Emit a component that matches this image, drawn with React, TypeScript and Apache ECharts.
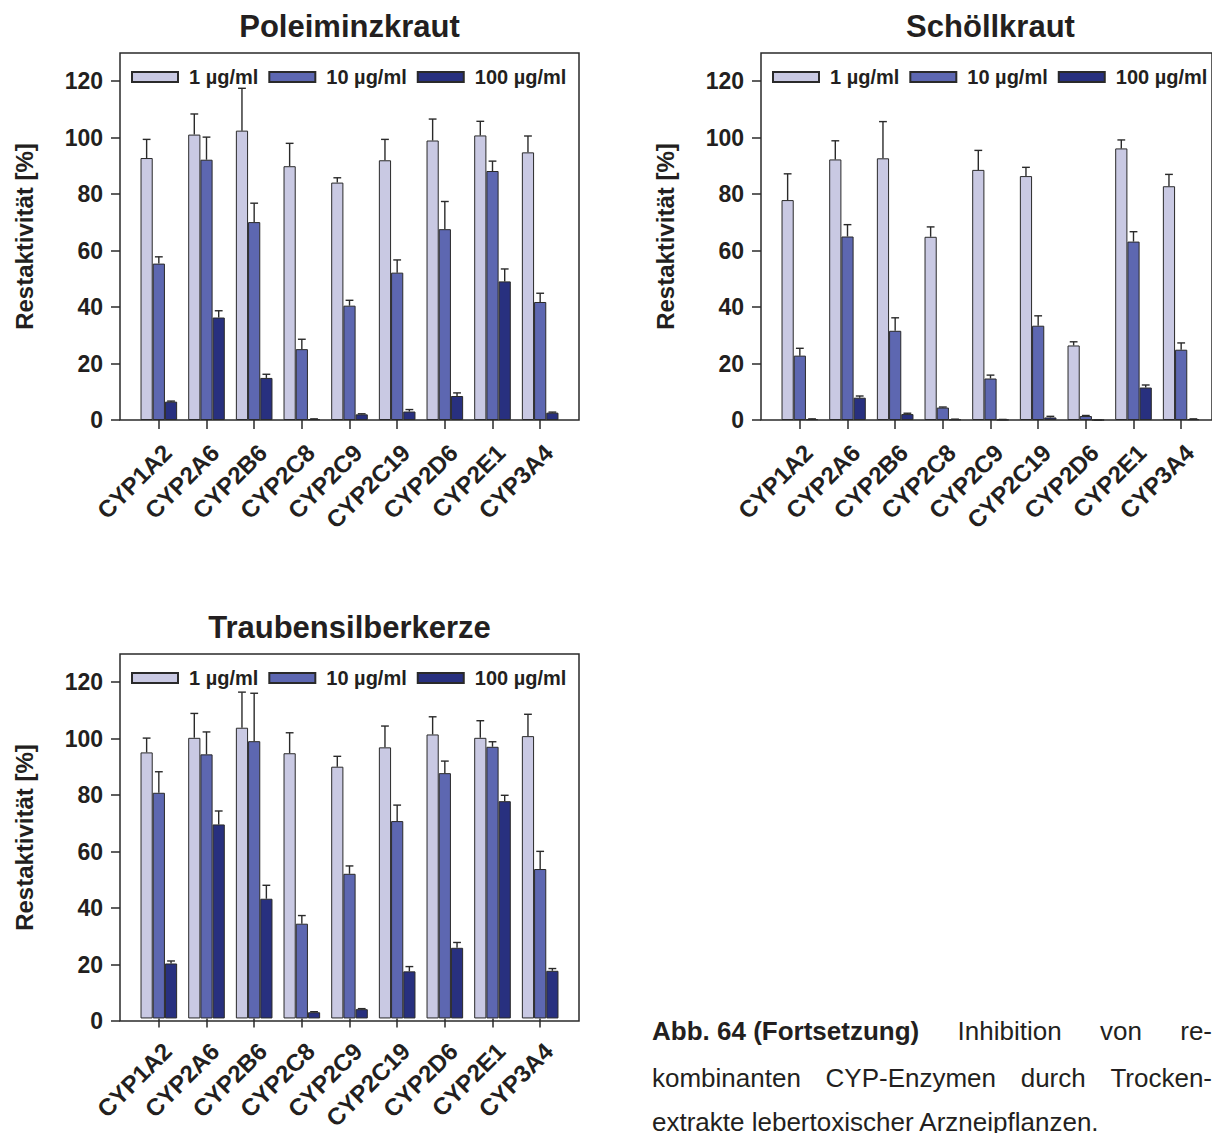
import React, { useEffect, useRef } from "react";
import * as echarts from "echarts";

const CATEGORIES = ["CYP1A2", "CYP2A6", "CYP2B6", "CYP2C8", "CYP2C9", "CYP2C19", "CYP2D6", "CYP2E1", "CYP3A4"];
const SERIES_NAMES = ["1 µg/ml", "10 µg/ml", "100 µg/ml"];
const Y_TICKS = [0, 20, 40, 60, 80, 100, 120];
const Y_LABEL = "Restaktivität [%]";

// Poleiminzkraut
const POLEI_1 = [92.8, 101.1, 102.5, 89.9, 84.1, 92.0, 99.0, 100.8, 94.8];
const POLEI_1_SD = [6.6, 7.3, 15.0, 8.1, 1.7, 7.4, 7.6, 5.0, 5.8];
const POLEI_10 = [55.4, 92.2, 70.1, 25.1, 40.5, 52.2, 67.6, 88.2, 41.8];
const POLEI_10_SD = [2.4, 8.0, 6.7, 3.5, 1.9, 4.5, 9.8, 3.5, 3.1];
const POLEI_100 = [6.5, 36.3, 14.9, 0.3, 2.0, 3.0, 8.5, 49.1, 2.6];
const POLEI_100_SD = [0.2, 2.4, 1.3, 0.1, 0.2, 0.7, 1.1, 4.4, 0.2];

// Schöllkraut
const SCHOELL_1 = [77.9, 92.3, 92.7, 64.9, 88.6, 86.4, 26.4, 96.2, 82.8];
const SCHOELL_1_SD = [9.3, 6.6, 13.0, 3.5, 6.9, 3.1, 1.3, 3.0, 4.2];
const SCHOELL_10 = [22.8, 65.0, 31.6, 4.4, 14.7, 33.4, 1.4, 63.2, 24.9];
const SCHOELL_10_SD = [2.6, 4.2, 4.6, 0.2, 1.2, 3.5, 0.2, 3.5, 2.4];
const SCHOELL_100 = [0.3, 7.9, 2.1, 0.2, 0.1, 0.9, 0.0, 11.5, 0.3];
const SCHOELL_100_SD = [0.1, 0.6, 0.3, 0.1, 0.1, 0.4, 0.0, 0.9, 0.1];

// Traubensilberkerze
const TRAUBEN_1 = [94.9, 100.1, 103.7, 94.6, 89.8, 96.7, 101.3, 100.1, 100.7];
const TRAUBEN_1_SD = [5.1, 8.7, 12.7, 7.3, 3.7, 7.6, 6.3, 6.1, 7.8];
const TRAUBEN_10 = [80.5, 94.2, 98.9, 33.8, 51.6, 70.4, 87.5, 96.9, 53.3];
const TRAUBEN_10_SD = [7.5, 8.0, 17.1, 2.9, 2.8, 5.7, 4.3, 1.8, 6.3];
const TRAUBEN_100 = [19.6, 69.2, 42.7, 2.2, 3.3, 16.8, 25.2, 77.5, 17.0];
const TRAUBEN_100_SD = [0.9, 4.8, 4.8, 0.2, 0.2, 1.7, 1.9, 2.1, 0.8];

const PANEL_TITLES = ["Poleiminzkraut", "Schöllkraut", "Traubensilberkerze"];

const CAPTION_LINE1 = [
  { t: "Abb. 64 (Fortsetzung)", bold: true },
  { t: "Inhibition", bold: false },
  { t: "von", bold: false },
  { t: "re-", bold: false },
];
const CAPTION_LINE2 = [
  { t: "kombinanten", bold: false },
  { t: "CYP-Enzymen", bold: false },
  { t: "durch", bold: false },
  { t: "Trocken-", bold: false },
];
const CAPTION_LINE3 = "extrakte lebertoxischer Arzneipflanzen.";

const FONT = "'Liberation Sans', Arial, Helvetica, sans-serif";
const TEXT_COLOR = "#231f20";
const BORDER = "#2a2a2a";
const COLORS = ["#c9c9e3", "#5d67b1", "#28307f"];
const BAR_FRAC = 0.256;

const PANELS = [
  {
    title: PANEL_TITLES[0],
    means: [POLEI_1, POLEI_10, POLEI_100],
    sds: [POLEI_1_SD, POLEI_10_SD, POLEI_100_SD],
    boxLeft: 120, top: 53, height: 367,
  },
  {
    title: PANEL_TITLES[1],
    means: [SCHOELL_1, SCHOELL_10, SCHOELL_100],
    sds: [SCHOELL_1_SD, SCHOELL_10_SD, SCHOELL_100_SD],
    boxLeft: 761, top: 53, height: 367,
  },
  {
    title: PANEL_TITLES[2],
    means: [TRAUBEN_1, TRAUBEN_10, TRAUBEN_100],
    sds: [TRAUBEN_1_SD, TRAUBEN_10_SD, TRAUBEN_100_SD],
    boxLeft: 120, top: 654, height: 367,
  },
];

const BOX_W = 459;
const PAD = 15;

function measure(text: string, font: string): number {
  const c = document.createElement("canvas");
  const ctx = c.getContext("2d");
  if (!ctx) return text.length * 12;
  ctx.font = font;
  return ctx.measureText(text).width;
}

function renderErr(params: any, api: any) {
  const cat = api.value(0);
  const mean = api.value(1);
  const sd = api.value(2);
  const s = api.value(3);
  const band = api.size([1, 0])[0];
  const bw = band * BAR_FRAC;
  const base = api.coord([cat, mean]);
  const top = api.coord([cat, mean + sd]);
  const x = base[0] + (s - 1) * bw;
  const cap = bw * 0.32;
  const st = { stroke: BORDER, lineWidth: 1.4 };
  return {
    type: "group",
    children: [
      { type: "line", shape: { x1: x, y1: base[1], x2: x, y2: top[1] }, style: st },
      { type: "line", shape: { x1: x - cap, y1: top[1], x2: x + cap, y2: top[1] }, style: st },
    ],
  };
}

export default function App() {
  const ref = useRef<HTMLDivElement>(null);

  useEffect(() => {
    if (!ref.current) return;
    const chart = echarts.init(ref.current, undefined, { renderer: "svg" });

    const grid: any[] = [];
    const xAxis: any[] = [];
    const yAxis: any[] = [];
    const series: any[] = [];
    const legend: any[] = [];
    const graphic: any[] = [];

    PANELS.forEach((p) => {
      const boxIdx = grid.length;
      grid.push({
        left: p.boxLeft, top: p.top, width: BOX_W, height: p.height,
        show: true, borderColor: BORDER, borderWidth: 1.5, backgroundColor: "transparent",
      });
      const barIdx = grid.length;
      grid.push({
        left: p.boxLeft + PAD, top: p.top, width: BOX_W - 2 * PAD, height: p.height,
      });
      xAxis.push({ gridIndex: boxIdx, type: "value", show: false, min: 0, max: 1 });
      yAxis.push({
        gridIndex: boxIdx, type: "value", min: 0, max: 130, interval: 10,
        axisLine: { show: false },
        axisTick: { show: true, inside: false, length: 9, customValues: Y_TICKS, lineStyle: { color: BORDER, width: 1.5 } },
        axisLabel: {
          customValues: Y_TICKS, margin: 17, fontSize: 23, fontWeight: "bold", fontFamily: FONT, color: TEXT_COLOR,
          formatter: (v: number) => (v > 120 ? "" : String(v)),
        },
        splitLine: { show: false },
        name: Y_LABEL, nameLocation: "middle", nameRotate: 90, nameGap: 84,
        nameTextStyle: { fontSize: 24, fontWeight: "bold", fontFamily: FONT, color: TEXT_COLOR },
      });
      const bxIdx = xAxis.length;
      xAxis.push({
        gridIndex: barIdx, type: "category", data: CATEGORIES,
        axisLine: { show: false },
        axisTick: { show: true, alignWithLabel: true, length: 9, lineStyle: { color: BORDER, width: 1.5 } },
        axisLabel: {
          interval: 0, rotate: 45, margin: 20, verticalAlign: "top",
          fontSize: 24, fontWeight: "bold", fontFamily: FONT, color: TEXT_COLOR,
        },
      });
      const byIdx = yAxis.length;
      yAxis.push({ gridIndex: barIdx, type: "value", min: 0, max: 130, interval: 10, show: false, splitLine: { show: false } });

      const errData: any[] = [];
      SERIES_NAMES.forEach((name, si) => {
        series.push({
          type: "bar", name, xAxisIndex: bxIdx, yAxisIndex: byIdx,
          data: p.means[si], barWidth: BAR_FRAC * 100 + "%", barGap: "0%",
          itemStyle: { color: COLORS[si], borderColor: BORDER, borderWidth: 1 },
          emphasis: { disabled: true },
        });
        p.means[si].forEach((m, ci) => errData.push([ci, m, p.sds[si][ci], si]));
      });
      series.push({
        type: "custom", xAxisIndex: bxIdx, yAxisIndex: byIdx, data: errData,
        renderItem: renderErr, z: 5, silent: true,
        encode: { x: 0, y: 1 },
      });

      legend.push({
        show: true, left: p.boxLeft + 6, top: p.top + 9, width: 520,
        orient: "horizontal", itemWidth: 46, itemHeight: 10, itemGap: 10,
        icon: "rect", data: SERIES_NAMES, selectedMode: false,
        textStyle: { fontSize: 20, fontWeight: "bold", fontFamily: FONT, color: TEXT_COLOR, padding: [0, 0, 0, 6] },
      });

      graphic.push({
        type: "text", x: p.boxLeft + BOX_W / 2, y: p.top - 27,
        style: {
          text: p.title, fontSize: 31, fontWeight: "bold", fontFamily: FONT, fill: TEXT_COLOR,
          align: "center", verticalAlign: "middle",
        },
      });
    });

    // caption (justified lines)
    const capLeft = 652;
    const capRight = 1212;
    const boldSize = 26;
    const regSize = 26;
    const lines = [CAPTION_LINE1, CAPTION_LINE2];
    const ys = [1031, 1078];
    lines.forEach((words, li) => {
      const widths = words.map((w) =>
        measure(w.t, w.bold ? `bold ${boldSize}px 'Liberation Sans'` : `${regSize}px 'Liberation Sans'`)
      );
      const total = widths.reduce((a, b) => a + b, 0);
      const gap = (capRight - capLeft - total) / (words.length - 1);
      let x = capLeft;
      words.forEach((w, wi) => {
        graphic.push({
          type: "text", x, y: ys[li],
          style: {
            text: w.t, fontSize: w.bold ? boldSize : regSize, fontWeight: w.bold ? "bold" : "normal",
            fontFamily: FONT, fill: TEXT_COLOR, align: "left", verticalAlign: "middle",
          },
        });
        x += widths[wi] + gap;
      });
    });
    graphic.push({
      type: "text", x: capLeft, y: 1122,
      style: {
        text: CAPTION_LINE3, fontSize: regSize, fontFamily: FONT, fill: TEXT_COLOR,
        align: "left", verticalAlign: "middle",
      },
    });

    chart.setOption({
      animation: false,
      backgroundColor: "#ffffff",
      textStyle: { fontFamily: FONT },
      grid, xAxis, yAxis, series, legend, graphic,
    });

    return () => chart.dispose();
  }, []);

  return (
    <div
      ref={ref}
      style={{ position: "absolute", left: 0, top: 0, width: 1212, height: 1133 }}
    />
  );
}
